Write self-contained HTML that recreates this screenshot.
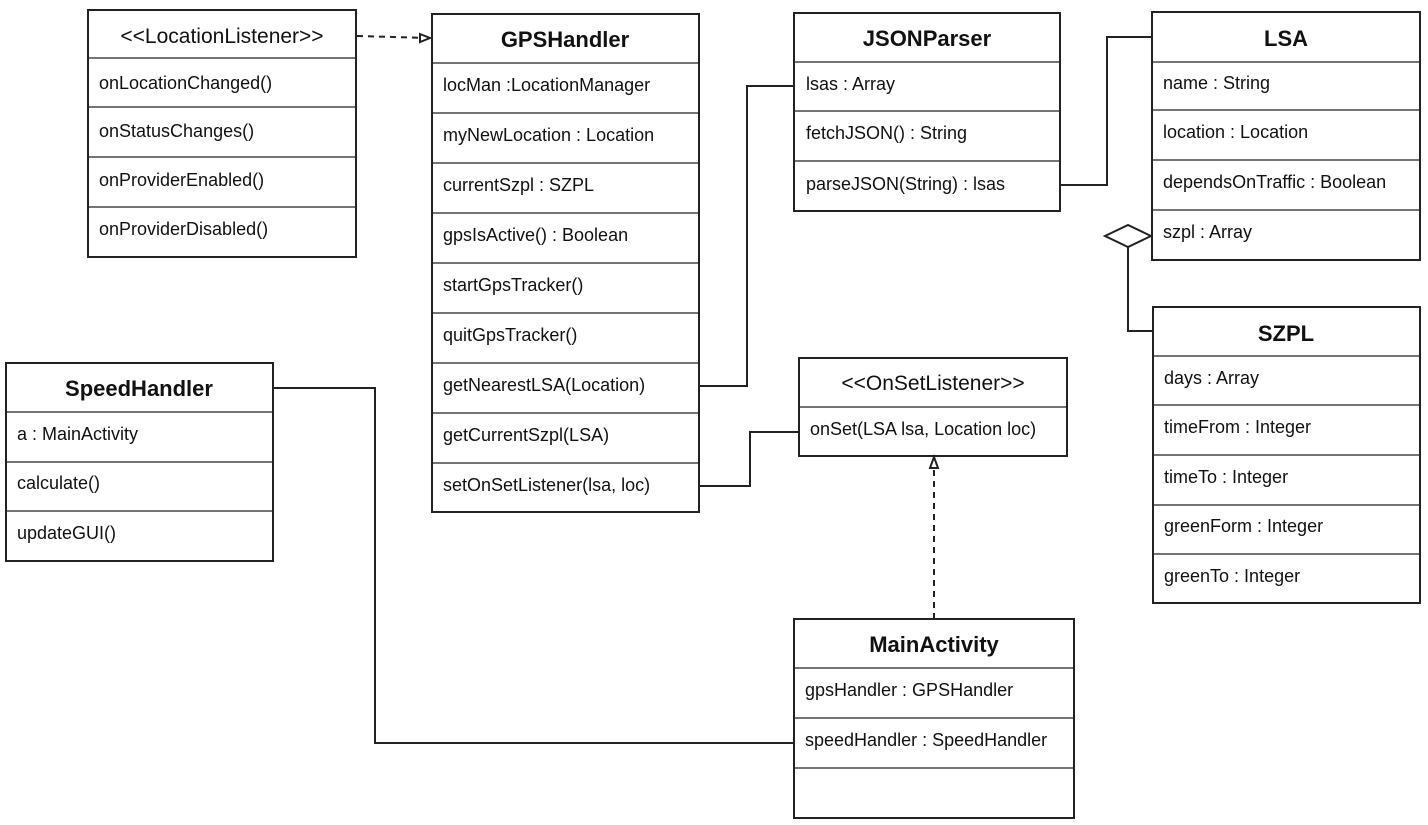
<!DOCTYPE html>
<html><head><meta charset="utf-8"><style>
html,body{margin:0;padding:0;background:#fff}
svg{display:block}
text{font-family:"Liberation Sans",sans-serif;fill:#111}
.h{font-size:22px;font-weight:bold;text-anchor:middle}
.s{font-size:21px;text-anchor:middle}
.r{font-size:18px}
</style></head><body>
<svg width="1428" height="825" viewBox="0 0 1428 825" xmlns="http://www.w3.org/2000/svg">
<g fill="none" stroke="#222" stroke-width="2">
<line x1="357" y1="36" x2="428" y2="38" stroke-dasharray="6,5"/>
<path d="M420,34 L430,38 L420,42 Z" fill="#fff"/>
<polyline points="699,386 747,386 747,86 794,86"/>
<polyline points="1060,185 1107,185 1107,37 1152,37"/>
<polyline points="1128,247 1128,331 1153,331"/>
<path d="M1105,236 L1128,225 L1151,236 L1128,247 Z" fill="#fff"/>
<polyline points="699,486 750,486 750,432 799,432"/>
<polyline points="273,388 375,388 375,743 794,743"/>
<line x1="934" y1="619" x2="934" y2="466" stroke-dasharray="6,5"/>
<path d="M930,468 L934,457 L938,468 Z" fill="#fff"/>
<rect x="88" y="10" width="268" height="247"/>
<path d="M88,58H356M88,107H356M88,157H356M88,207H356" stroke-width="1.3"/>
<rect x="432" y="14" width="267" height="498"/>
<path d="M432,63H699M432,113H699M432,163H699M432,213H699M432,263H699M432,313H699M432,363H699M432,413H699M432,463H699" stroke-width="1.3"/>
<rect x="794" y="13" width="266" height="198"/>
<path d="M794,62H1060M794,111H1060M794,161H1060" stroke-width="1.3"/>
<rect x="1152" y="12" width="268" height="248"/>
<path d="M1152,62H1420M1152,110H1420M1152,160H1420M1152,210H1420" stroke-width="1.3"/>
<rect x="1153" y="307" width="267" height="296"/>
<path d="M1153,356H1420M1153,405H1420M1153,455H1420M1153,505H1420M1153,554H1420" stroke-width="1.3"/>
<rect x="6" y="363" width="267" height="198"/>
<path d="M6,412H273M6,462H273M6,511H273" stroke-width="1.3"/>
<rect x="799" y="358" width="268" height="98"/>
<path d="M799,407H1067" stroke-width="1.3"/>
<rect x="794" y="619" width="280" height="199"/>
<path d="M794,668H1074M794,718H1074M794,768H1074" stroke-width="1.3"/>
</g>
<text class="s" x="222" y="43">&lt;&lt;LocationListener&gt;&gt;</text>
<text class="r" x="99" y="89">onLocationChanged()</text>
<text class="r" x="99" y="137">onStatusChanges()</text>
<text class="r" x="99" y="186">onProviderEnabled()</text>
<text class="r" x="99" y="235">onProviderDisabled()</text>

<text class="h" x="565" y="47">GPSHandler</text>
<text class="r" x="443" y="91">locMan :LocationManager</text>
<text class="r" x="443" y="141">myNewLocation : Location</text>
<text class="r" x="443" y="191">currentSzpl : SZPL</text>
<text class="r" x="443" y="241">gpsIsActive() : Boolean</text>
<text class="r" x="443" y="291">startGpsTracker()</text>
<text class="r" x="443" y="341">quitGpsTracker()</text>
<text class="r" x="443" y="391">getNearestLSA(Location)</text>
<text class="r" x="443" y="441">getCurrentSzpl(LSA)</text>
<text class="r" x="443" y="491">setOnSetListener(lsa, loc)</text>

<text class="h" x="927" y="46">JSONParser</text>
<text class="r" x="806" y="90">lsas : Array</text>
<text class="r" x="806" y="139">fetchJSON() : String</text>
<text class="r" x="806" y="190">parseJSON(String) : lsas</text>

<text class="h" x="1286" y="46">LSA</text>
<text class="r" x="1163" y="89">name : String</text>
<text class="r" x="1163" y="138">location : Location</text>
<text class="r" x="1163" y="188">dependsOnTraffic : Boolean</text>
<text class="r" x="1163" y="238">szpl : Array</text>

<text class="h" x="1286" y="341">SZPL</text>
<text class="r" x="1164" y="384">days : Array</text>
<text class="r" x="1164" y="433">timeFrom : Integer</text>
<text class="r" x="1164" y="483">timeTo : Integer</text>
<text class="r" x="1164" y="532">greenForm : Integer</text>
<text class="r" x="1164" y="582">greenTo : Integer</text>

<text class="h" x="139" y="396">SpeedHandler</text>
<text class="r" x="17" y="440">a : MainActivity</text>
<text class="r" x="17" y="489">calculate()</text>
<text class="r" x="17" y="539">updateGUI()</text>

<text class="s" x="933" y="390">&lt;&lt;OnSetListener&gt;&gt;</text>
<text class="r" x="810" y="435">onSet(LSA lsa, Location loc)</text>

<text class="h" x="934" y="652">MainActivity</text>
<text class="r" x="805" y="696">gpsHandler : GPSHandler</text>
<text class="r" x="805" y="746">speedHandler : SpeedHandler</text>
</svg>
</body></html>
